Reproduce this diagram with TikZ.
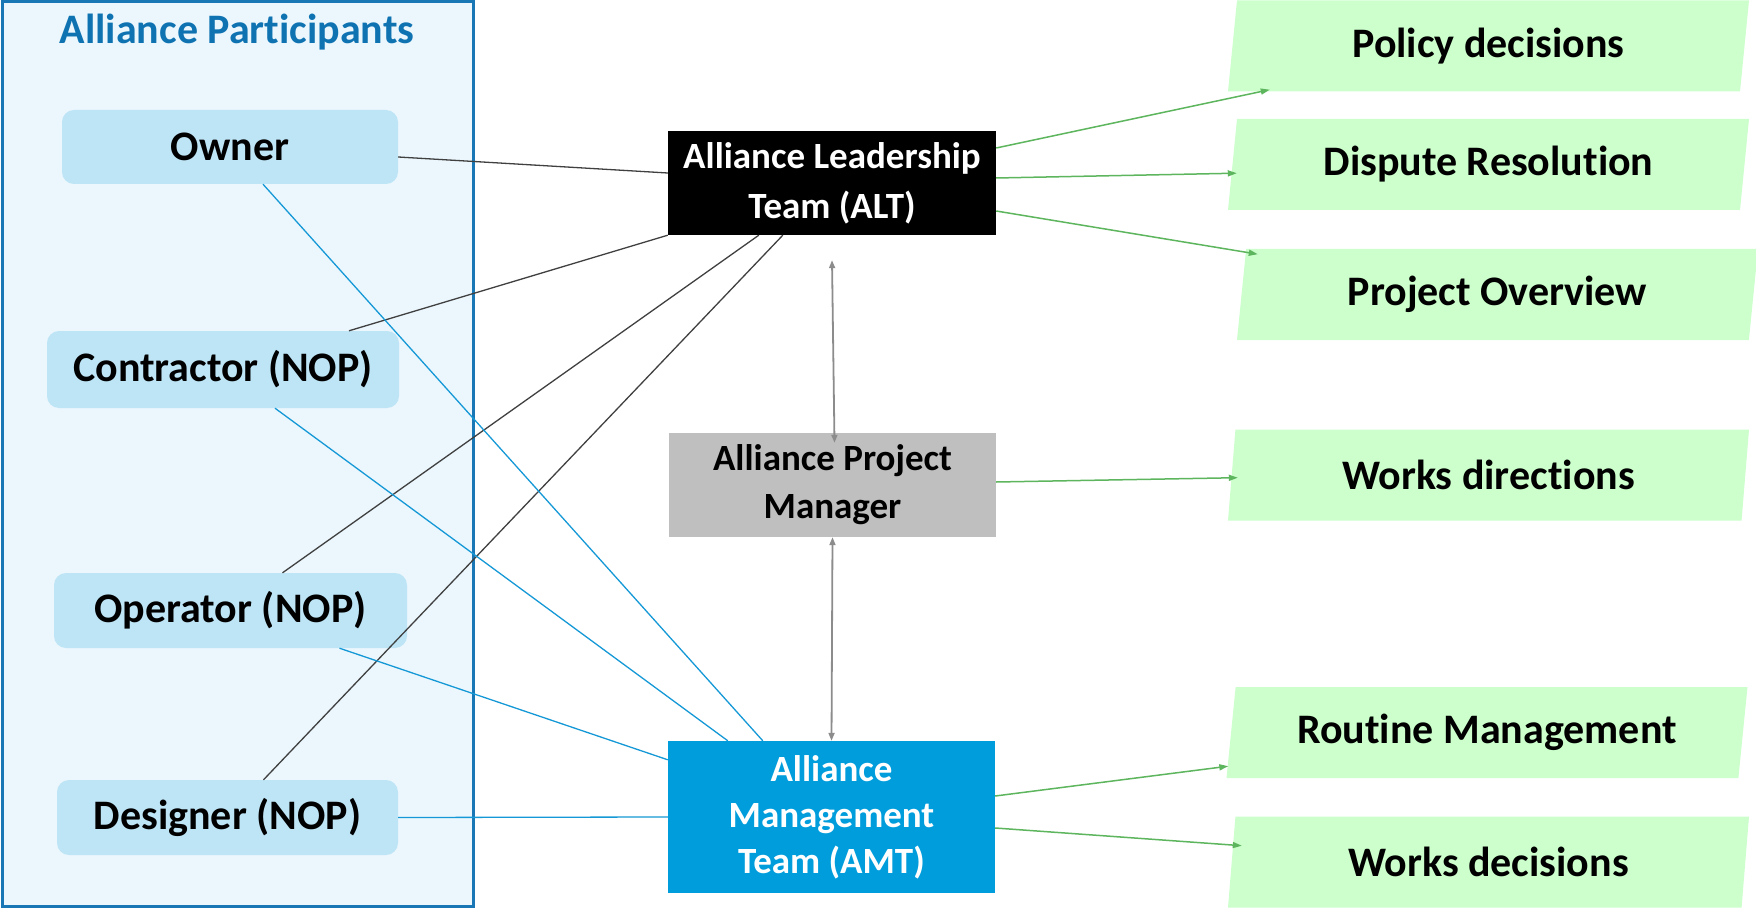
\documentclass[tikz,border=0pt]{standalone}
\usepackage{fontspec}
\setmainfont[Ligatures={NoCommon}]{Carlito}
\usetikzlibrary{calc,shapes.geometric,arrows.meta}
\definecolor{contfill}{HTML}{EBF7FD}
\definecolor{contline}{HTML}{1877B4}
\definecolor{titleblue}{HTML}{0F73B2}
\definecolor{partfill}{HTML}{BEE5F6}
\definecolor{amtfill}{HTML}{009DDC}
\definecolor{apmfill}{HTML}{BFBFBF}
\definecolor{greenfill}{HTML}{CCFFCC}
\definecolor{greenline}{HTML}{5DB55D}
\definecolor{blueline}{HTML}{1598D6}
\definecolor{darkline}{HTML}{404040}
\definecolor{grayline}{HTML}{8C8C8C}
\begin{document}
\begin{tikzpicture}[x=1pt,y=-1pt,
  bigtext/.style={font=\bfseries\fontsize{42}{50}\selectfont},
  midtext/.style={font=\bfseries\fontsize{37}{48}\selectfont, align=center},
  container/.style={draw=contline, line width=3pt, fill=contfill, inner sep=0pt},
  part/.style={fill=partfill, rounded corners=12pt, inner sep=0pt, bigtext},
  team/.style={inner sep=0pt, midtext},
  outbox/.style={trapezium, trapezium left angle=76, trapezium right angle=104,
    trapezium stretches body, minimum height=91pt, minimum width=521pt,
    fill=greenfill, inner sep=0pt, bigtext},
  darkcon/.style={draw=darkline, line width=1.3pt},
  bluecon/.style={draw=blueline, line width=1.3pt},
  greenarr/.style={draw=greenline, line width=1.5pt, -{Triangle[length=9pt,width=6pt]}},
  grayarr/.style={draw=grayline, line width=1.8pt,
    {Triangle[length=8pt,width=6pt]}-{Triangle[length=8pt,width=6pt]}}
]
\useasboundingbox (0,0) rectangle (1756,909);
% container
\node[container, minimum width=471pt, minimum height=905pt] (cont) at (237.5,454) {};
\node[font=\bfseries\fontsize{42}{48}\selectfont, text=titleblue] (title) at (237,32) {Alliance Participants};
% participants
\node[part, minimum width=336pt, minimum height=74pt] (owner) at (230,147) {Owner};
\node[part, minimum width=352pt, minimum height=77pt] (contr) at (223,369.5) {Contractor (NOP)};
\node[part, minimum width=353pt, minimum height=75pt] (oper) at (230.5,610.5) {Operator (NOP)};
\node[part, minimum width=341pt, minimum height=75pt] (desig) at (227.5,817.5) {Designer (NOP)};
% teams
\node[team, fill=black, text=white, minimum width=328pt, minimum height=104pt, font=\bfseries\fontsize{37}{50}\selectfont] (alt) at (832,183) {Alliance Leadership\\Team (ALT)};
\node[team, fill=apmfill, text=black, minimum width=327pt, minimum height=104pt] (apm) at (832.5,485) {Alliance Project\\Manager};
\node[team, fill=amtfill, text=white, minimum width=327pt, minimum height=152pt, font=\bfseries\fontsize{37}{46}\selectfont] (amt) at (831.5,817) {Alliance\\Management\\Team (AMT)};
% outcomes
\node[outbox] (pol) at (1488.5,46) {Policy decisions};
\node[outbox] (dis) at (1488.5,164.5) {Dispute Resolution};
\node[outbox] (pro) at (1497.5,294.5) {Project Overview};
\node[outbox] (wdir) at (1488.5,475) {Works directions};
\node[outbox] (rout) at (1487,732.5) {Routine Management};
\node[outbox] (wdec) at (1488.5,862) {Works decisions};
% participant -> ALT
\draw[darkcon] ($(owner.east)+(0,10)$) -- ($(alt.west)+(0,-10)$);
\draw[darkcon] ($(contr.north)+(126,0)$) -- (alt.south west);
\draw[darkcon] ($(oper.north)+(52,0)$) -- ($(alt.south west)+(91,0)$);
\draw[darkcon] ($(desig.north)+(36,0)$) -- ($(alt.south west)+(115,0)$);
% participant -> AMT
\draw[bluecon] ($(owner.south)+(33,0)$) -- ($(amt.north west)+(95,0)$);
\draw[bluecon] ($(contr.south)+(52,0)$) -- ($(amt.north west)+(60,0)$);
\draw[bluecon] ($(oper.south)+(109,0)$) -- ($(amt.north west)+(0,19)$);
\draw[bluecon] (desig.east) -- (amt.west);
% vertical links
\draw[grayarr] ($(alt.south)+(0,25)$) -- ($(apm.north)+(2,10)$);
\draw[grayarr] (apm.south) -- (amt.north);
% outputs
\draw[greenarr] ($(alt.east)+(0,-35)$) -- ($(pol.bottom left corner)+(42,-2)$);
\draw[greenarr] ($(alt.east)+(0,-5)$) -- ($(dis.bottom left corner)+(9,-37)$);
\draw[greenarr] ($(alt.east)+(0,28)$) -- ($(pro.bottom left corner)+(21,-86)$);
\draw[greenarr] ($(apm.east)+(0,-3)$) -- ($(wdir.bottom left corner)+(10,-43)$);
\draw[greenarr] ($(amt.east)+(0,-21)$) -- ($(rout.bottom left corner)+(2,-12)$);
\draw[greenarr] ($(amt.east)+(0,11)$) -- ($(wdec.bottom left corner)+(14,-62)$);
\end{tikzpicture}
\end{document}
